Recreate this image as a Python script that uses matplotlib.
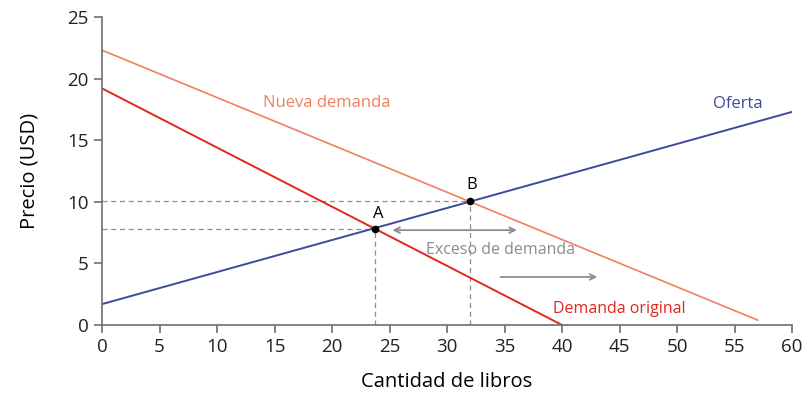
import numpy as np
import matplotlib.pyplot as plt

plt.rcParams['font.family'] = ['Open Sans', 'DejaVu Sans']

# curves: (x start, y start), (x end, y end)
oferta_x = [0, 60]
oferta_y = [1.7, 17.3]
dem_orig_x = [0, 40]
dem_orig_y = [19.2, 0]
dem_nueva_x = [0, 57]
dem_nueva_y = [22.3, 0.4]

pt_A = (23.7, 7.8)
pt_B = (32.0, 10.1)

xticks = list(range(0, 61, 5))
yticks = list(range(0, 26, 5))

c_blue = '#3d4a9e'
c_red = '#e3261d'
c_orange = '#f0805f'
c_gray = '#8c8c8c'
c_axis = '#6e6e6e'

fig = plt.figure(figsize=(8.1, 3.94), dpi=100)
ax = fig.add_axes([0.126, 0.175, 0.852, 0.782])

# dashed guides
for px, py in (pt_A, pt_B):
    ax.plot([0, px], [py, py], ls=(0, (4, 3)), color=c_gray, lw=0.9)
    ax.plot([px, px], [0, py], ls=(0, (4, 3)), color=c_gray, lw=0.9)

ax.plot(dem_nueva_x, dem_nueva_y, color=c_orange, lw=1.2)
ax.plot(dem_orig_x, dem_orig_y, color=c_red, lw=1.4)
ax.plot(oferta_x, oferta_y, color=c_blue, lw=1.4)

ax.plot(*pt_A, 'o', color='black', ms=4.5, zorder=5)
ax.plot(*pt_B, 'o', color='black', ms=4.5, zorder=5)
ax.text(pt_A[0] + 0.3, pt_A[1] + 0.6, 'A', fontsize=12, ha='center', va='bottom')
ax.text(pt_B[0] + 0.1, pt_B[1] + 0.6, 'B', fontsize=12, ha='center', va='bottom')

# arrows
ax.annotate('', xy=(25.0, 7.7), xytext=(36.3, 7.7),
            arrowprops=dict(arrowstyle='<->', color=c_gray, lw=1.3))
ax.annotate('', xy=(43.3, 3.9), xytext=(34.4, 3.9),
            arrowprops=dict(arrowstyle='->', color=c_gray, lw=1.3))
ax.text(34.6, 6.1, 'Exceso de demanda', color=c_gray, fontsize=11.5,
        ha='center', va='center')

ax.text(19.5, 18.0, 'Nueva demanda', color=c_orange, fontsize=12, ha='center', va='center')
ax.text(55.3, 17.9, 'Oferta', color=c_blue, fontsize=12, ha='center', va='center')
ax.text(45.0, 1.3, 'Demanda original', color=c_red, fontsize=11.5, ha='center', va='center')

ax.set_xlim(0, 60)
ax.set_ylim(0, 25)
ax.set_xticks(xticks)
ax.set_yticks(yticks)
ax.spines['top'].set_visible(False)
ax.spines['right'].set_visible(False)
for s in ('left', 'bottom'):
    ax.spines[s].set_color(c_axis)
    ax.spines[s].set_linewidth(1.2)
ax.tick_params(direction='out', length=6, width=1.2, color=c_axis,
               labelsize=13.5, labelcolor='#222222')
ax.set_xlabel('Cantidad de libros', fontsize=14.5, labelpad=11)
ax.set_ylabel('Precio (USD)', fontsize=14.5, labelpad=20)

fig.savefig('out.png', dpi=100)
